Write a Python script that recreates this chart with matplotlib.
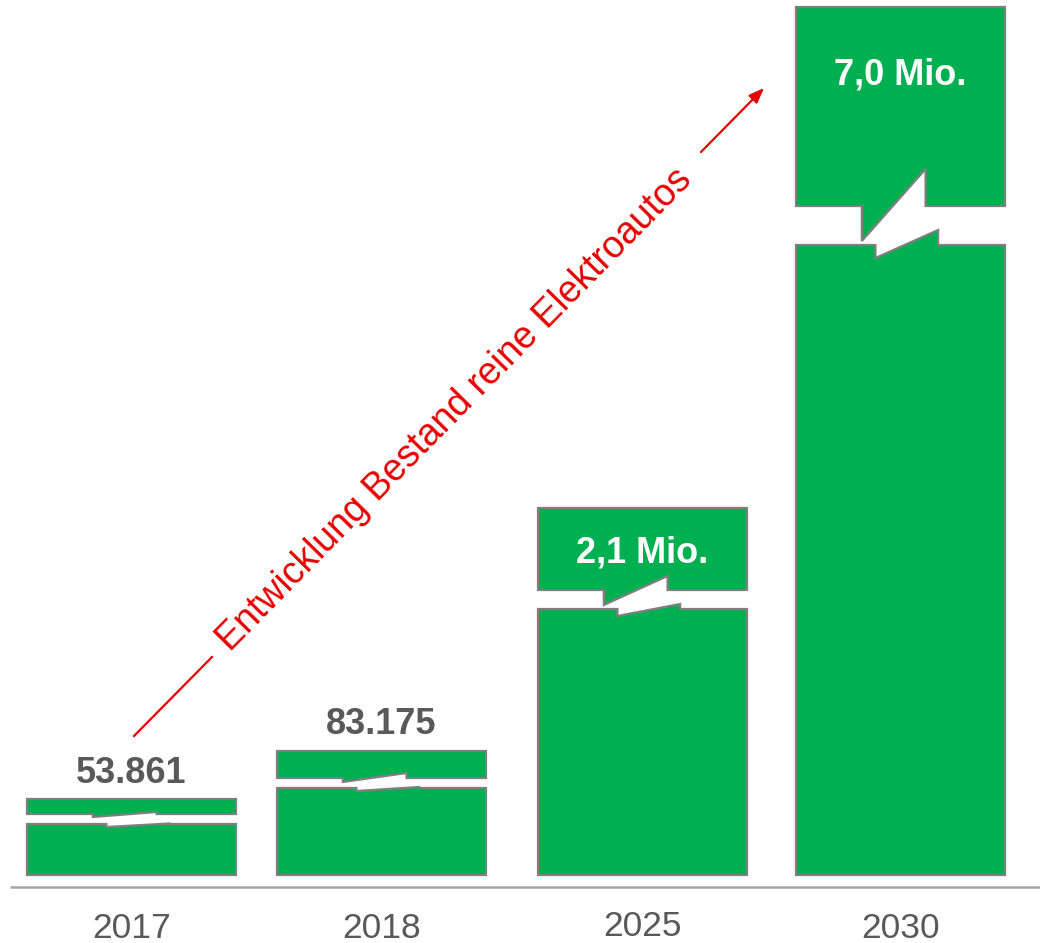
import matplotlib
matplotlib.use("Agg")
import matplotlib.pyplot as plt
from matplotlib.patches import Polygon

plt.rcParams['font.family'] = ['Liberation Sans', 'DejaVu Sans']

# ---- data ----
years = ["2017", "2018", "2025", "2030"]
values = [53861, 83175, 2_100_000, 7_000_000]
value_labels = ["53.861", "83.175", "2,1 Mio.", "7,0 Mio."]
arrow_text = "Entwicklung Bestand reine Elektroautos"

# ---- layout (pixel-like axis units, y downward) ----
bar_left = [27, 277, 538, 796]
bar_width = 209
bar_bottom = 875
upper_top = [799, 751, 508, 7]        # top of upper segment
upper_bottom = [814, 778, 590, 206]   # bottom of upper segment
lower_top = [824, 788, 609, 245]      # top of lower segment
upper_notch = [(3, 2), (4, 5), (15, 14), (35, 37)]
lower_notch = [(3, 0.5), (3, 1), (7, 5), (13, 15)]
label_y = [783, 734, 562, 85]
label_inside = [False, False, True, True]
year_y = [938, 938, 936, 938]

GREEN = "#00B050"
EDGE = "#7F7F7F"
GREY = "#595959"
RED = "#E60000"

fig = plt.figure(figsize=(10.4, 9.43), dpi=100)
ax = fig.add_axes([0, 0, 1, 1])
ax.set_xlim(0, 1040)
ax.set_ylim(943, 0)
ax.axis("off")

for i in range(len(years)):
    L = bar_left[i]
    R = L + bar_width
    W = bar_width
    yt, yub, ylt = upper_top[i], upper_bottom[i], lower_top[i]
    a1, b1 = upper_notch[i]
    a2, b2 = lower_notch[i]
    ux1, ux2 = L + 0.315 * W, L + 0.62 * W
    lx1, lx2 = L + 0.38 * W, L + 0.68 * W
    upper = [(L, yt), (R, yt), (R, yub), (ux2, yub), (ux2, yub - b1),
             (ux1, yub + a1), (ux1, yub), (L, yub)]
    lower = [(L, ylt), (lx1, ylt), (lx1, ylt + a2), (lx2, ylt - b2),
             (lx2, ylt), (R, ylt), (R, bar_bottom), (L, bar_bottom)]
    for pts in (upper, lower):
        ax.add_patch(Polygon(pts, closed=True, facecolor=GREEN,
                             edgecolor=EDGE, linewidth=1.6, joinstyle="miter"))
    cx = L + W / 2
    ax.text(cx, label_y[i], value_labels[i], ha="center", va="baseline",
            fontsize=26, fontweight="bold",
            color="white" if label_inside[i] else GREY)
    ax.text(cx, year_y[i], years[i], ha="center", va="baseline",
            fontsize=25.5, color=GREY)

# baseline axis line
ax.plot([10, 1040], [887, 887], color="#A6A6A6", linewidth=1.8,
        solid_capstyle="butt")

# red trend arrow with text
ax.plot([134, 212], [736, 657], color=RED, linewidth=1.6)
ax.annotate("", xy=(764, 88), xytext=(701, 152),
            arrowprops=dict(arrowstyle="-|>,head_length=0.9,head_width=0.35",
                            color=RED, linewidth=1.6, shrinkA=0, shrinkB=0))
ax.text(455, 410, arrow_text, ha="center", va="center", rotation=45.5,
        rotation_mode="anchor", fontsize=27, color=RED)

fig.savefig("out.png", dpi=100)
